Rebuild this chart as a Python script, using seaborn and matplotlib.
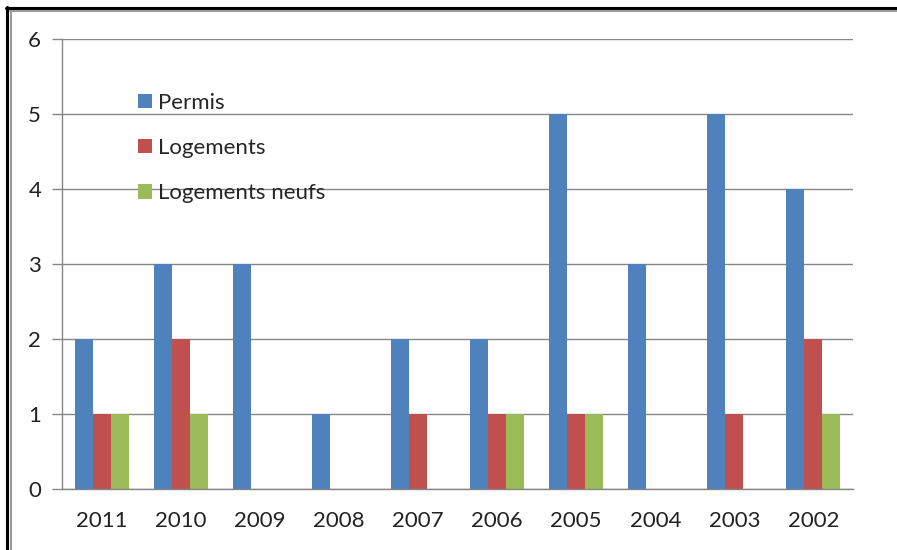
import matplotlib
matplotlib.use("Agg")
import matplotlib.pyplot as plt
from matplotlib.lines import Line2D
from matplotlib.patches import Patch
import seaborn as sns
import pandas as pd

years = ["2011", "2010", "2009", "2008", "2007", "2006", "2005", "2004", "2003", "2002"]
permis = [2, 3, 3, 1, 2, 2, 5, 3, 5, 4]
logements = [1, 2, 0, 0, 1, 1, 1, 0, 1, 2]
logements_neufs = [1, 1, 0, 0, 0, 1, 1, 0, 0, 1]
series = ["Permis", "Logements", "Logements neufs"]
colors = ["#4F81BD", "#C0504D", "#9BBB59"]

rows = []
for name, vals in zip(series, [permis, logements, logements_neufs]):
    for y, v in zip(years, vals):
        rows.append({"Année": y, "Série": name, "Valeur": v})
df = pd.DataFrame(rows)

sns.set_style("white")
plt.rcParams["font.family"] = ["Lato", "DejaVu Sans"]

W, H = 897, 550
fig = plt.figure(figsize=(W / 100, H / 100), dpi=100)
ax = fig.add_axes([62 / W, 1 - 489 / H, (853 - 62) / W, (489 - 39) / H])

sns.barplot(data=df, x="Année", y="Valeur", hue="Série", order=years,
            hue_order=series, palette=colors, width=0.683, gap=0,
            saturation=1, ax=ax, legend=False, linewidth=0)

grid_c = "#868686"
ax.set_xlim(-0.5, 9.5)
ax.set_ylim(0, 6)
ax.set_yticks(range(7))
ax.yaxis.grid(True, color=grid_c, linewidth=1)
ax.set_axisbelow(True)
ax.set_xlabel("")
ax.set_ylabel("")
for s in ["top", "right"]:
    ax.spines[s].set_visible(False)
for s in ["left", "bottom"]:
    ax.spines[s].set_color(grid_c)
    ax.spines[s].set_linewidth(1)

ax.set_xticks(range(10))
ax.set_xticklabels(years)
ax.set_xticks([i - 0.5 for i in range(11)], minor=True)
ax.tick_params(axis="x", which="major", length=0, pad=16, labelsize=16, colors="#000000")
ax.tick_params(axis="x", which="minor", length=7, color=grid_c, width=1, direction="out")
ax.tick_params(axis="y", length=7, color=grid_c, width=1, direction="out", pad=8,
               labelsize=16, left=True)
for lab in ax.get_xticklabels() + ax.get_yticklabels():
    lab.set_color("#222222")

handles = [Patch(facecolor=c, edgecolor="none") for c in colors]
ax.legend(handles, series, loc="upper left", bbox_to_anchor=(138 / W, 1 - 93 / H),
          bbox_transform=fig.transFigure, frameon=False, fontsize=16,
          handlelength=0.62, handleheight=0.62, handletextpad=0.3,
          labelspacing=1.13, borderpad=0, borderaxespad=0)

# frame around the figure (top and left edges)
fig.add_artist(Line2D([6 / W, 1], [1 - 7.5 / H, 1 - 7.5 / H], transform=fig.transFigure,
                      color="black", linewidth=2.2))
fig.add_artist(Line2D([6.5 / W, 6.5 / W], [0, 1 - 7 / H], transform=fig.transFigure,
                      color="black", linewidth=2.2))
fig.add_artist(Line2D([10 / W, 1], [1 - 11 / H, 1 - 11 / H], transform=fig.transFigure,
                      color="#9a9a9a", linewidth=1.5))
fig.add_artist(Line2D([10.5 / W, 10.5 / W], [0, 1 - 11 / H], transform=fig.transFigure,
                      color="#9a9a9a", linewidth=1.5))

fig.savefig("out.png", dpi=100)
